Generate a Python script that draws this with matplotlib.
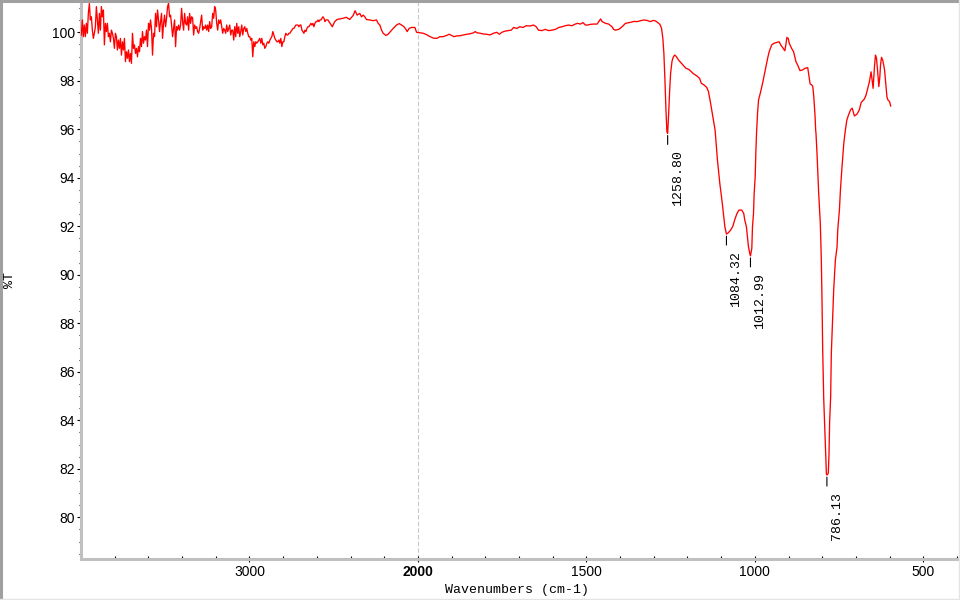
import numpy as np
import matplotlib
matplotlib.use("Agg")
import matplotlib.pyplot as plt
import matplotlib.transforms as mtransforms
from matplotlib.ticker import FixedLocator, MultipleLocator
from matplotlib.lines import Line2D

# ---------------- data ----------------
# noisy high-wavenumber region, uniformly sampled from 3998 to 2528 cm-1
noisy_start, noisy_end = 3998, 2528
T_noisy = [
    99.89, 100.51, 99.82, 100.30, 99.82, 100.37, 99.96, 100.78, 101.19, 100.51,
    100.64, 100.09, 99.75, 99.96, 100.23, 101.06, 100.51, 99.96, 100.78, 100.09,
    101.06, 100.64, 100.92, 99.48, 100.37, 100.03, 100.37, 99.82, 99.96, 99.61,
    100.09, 99.96, 99.75, 99.34, 99.96, 99.82, 99.27, 99.68, 99.34, 99.75,
    99.06, 99.61, 99.27, 99.75, 98.79, 99.20, 98.93, 99.27, 98.79, 99.13,
    98.72, 99.96, 99.34, 99.48, 99.13, 99.34, 98.99, 99.41, 99.20, 99.75,
    99.41, 100.03, 99.55, 99.82, 99.68, 100.09, 99.41, 100.37, 100.09, 100.51,
    100.16, 99.06, 99.96, 99.82, 100.78, 100.23, 100.92, 100.51, 100.03, 100.44,
    100.78, 99.75, 100.37, 100.71, 100.23, 100.58, 101.06, 101.19, 100.64, 100.71,
    100.30, 99.82, 100.16, 100.51, 99.41, 100.23, 100.09, 100.30, 100.09, 100.30,
    100.99, 100.44, 100.09, 100.78, 100.37, 100.30, 100.64, 100.09, 100.78, 100.37,
    100.64, 100.58, 99.89, 100.30, 100.16, 100.23, 100.03, 99.96, 100.16, 100.44,
    100.71, 100.09, 100.23, 100.16, 100.30, 100.09, 100.30, 100.03, 100.44, 100.16,
    100.23, 100.78, 100.58, 101.06, 100.92, 100.37, 100.09, 100.51, 100.37, 100.51,
    100.23, 99.96, 100.16, 100.09, 99.96, 100.30, 100.03, 100.16, 100.30, 99.89,
    100.09, 100.09, 99.68, 100.23, 99.82, 100.37, 99.96, 100.23, 99.82, 100.03,
    100.30, 99.89, 100.16, 100.23, 100.03, 100.16, 99.96, 99.82, 99.82, 99.68,
    99.75, 98.99, 99.61, 99.41, 99.61, 99.55, 99.61, 99.68, 99.75, 99.55,
    99.75, 99.48, 99.55, 99.34, 99.41, 99.55, 99.61, 99.55, 99.68, 99.75,
    99.82, 100.03, 99.89, 99.75, 99.68, 99.61, 99.61, 99.68, 99.55, 99.75,
    99.41, 99.61, 99.61, 99.82, 99.96, 99.89, 99.89, 99.96, 99.96, 100.03,
    100.09, 100.16, 100.16, 100.23, 100.30, 100.30, 100.30, 100.23, 100.30, 100.30,
    100.09, 100.03, 99.96, 100.09, 100.03, 100.16, 100.23, 100.23, 100.30, 100.37,
    100.30, 100.37, 100.23, 100.37, 100.44, 100.44, 100.51, 100.44, 100.51, 100.51,
    100.58, 100.64, 100.58, 100.44, 100.51, 100.51, 100.51, 100.44,
]

# rest of the spectrum (wavenumber, %T)
w_main = [
    2508, 2494, 2480, 2464, 2444, 2425, 2405, 2385, 2373, 2361,
    2345, 2335, 2325, 2315, 2306, 2286, 2266, 2246, 2236, 2226,
    2216, 2206, 2190, 2177, 2163, 2147, 2127, 2111, 2097, 2083,
    2071, 2064, 2052, 2038, 2018, 2008, 1994, 1984, 1974, 1964,
    1954, 1944, 1935, 1925, 1915, 1907, 1900, 1893, 1885, 1875,
    1865, 1855, 1845, 1835, 1830, 1825, 1815, 1806, 1796, 1786,
    1776, 1766, 1758, 1751, 1741, 1731, 1723, 1716, 1706, 1698,
    1688, 1679, 1667, 1657, 1649, 1642, 1632, 1622, 1612, 1602,
    1592, 1582, 1572, 1563, 1553, 1543, 1533, 1526, 1518, 1510,
    1503, 1496, 1488, 1478, 1468, 1458, 1453, 1443, 1434, 1424,
    1419, 1414, 1404, 1394, 1384, 1369, 1359, 1349, 1339, 1329,
    1320, 1310, 1302, 1295, 1288, 1282, 1277, 1273, 1270, 1267,
    1264, 1261, 1258.8, 1256, 1253, 1250, 1246, 1243, 1238.5, 1234,
    1225, 1215, 1205, 1196, 1188, 1184, 1173, 1164, 1159, 1151,
    1143, 1138, 1133, 1128, 1123, 1118, 1114, 1111, 1108, 1104,
    1099, 1095, 1089, 1084.32, 1079, 1072, 1065, 1060, 1053, 1047,
    1039, 1033, 1030, 1025, 1022, 1019, 1015, 1012.99, 1009, 1007,
    1004, 1002, 999, 997, 995, 992, 989, 984, 977, 972,
    967, 962, 957.5, 950, 943, 932.5, 928, 923, 916, 911,
    908, 905, 901, 898, 891, 885, 878, 873, 866, 858,
    851, 843, 840, 836, 831, 828, 825, 821.5, 819.5, 818.5,
    815.5, 810.5, 805.7, 802.7, 800.7, 798.6, 795.6, 791.7, 789.5, 787.7,
    786.13, 782, 780, 778, 775, 773, 770, 766, 761, 756,
    754, 749, 746, 742, 739, 736, 732, 727, 722, 716,
    711, 704.5, 696.5, 690, 684.6, 675, 670, 665, 660, 655,
    652, 649, 645, 642, 639, 635, 632, 629, 627, 624,
    620, 615, 611, 608, 605, 600, 597,
]
T_main = [
    100.23, 100.44, 100.53, 100.55, 100.58, 100.62, 100.53, 100.69, 100.89, 100.71,
    100.78, 100.64, 100.71, 100.64, 100.53, 100.51, 100.48, 100.51, 100.37, 100.30,
    100.09, 99.96, 99.87, 99.92, 100.03, 100.16, 100.30, 100.36, 100.30, 100.23,
    100.12, 100.03, 100.16, 100.20, 100.20, 100.00, 99.98, 99.96, 99.90, 99.82,
    99.76, 99.75, 99.82, 99.82, 99.87, 99.92, 99.87, 99.82, 99.85, 99.86,
    99.89, 99.92, 99.94, 99.98, 100.03, 99.98, 99.96, 99.93, 99.92, 99.89,
    99.96, 100.00, 99.92, 100.00, 100.05, 100.07, 100.09, 100.20, 100.16, 100.23,
    100.20, 100.27, 100.26, 100.30, 100.23, 100.09, 100.07, 100.12, 100.07, 100.09,
    100.12, 100.20, 100.23, 100.27, 100.30, 100.27, 100.34, 100.37, 100.34, 100.40,
    100.30, 100.30, 100.33, 100.34, 100.34, 100.55, 100.44, 100.37, 100.34, 100.23,
    100.12, 100.09, 100.12, 100.23, 100.37, 100.41, 100.45, 100.44, 100.48, 100.51,
    100.49, 100.44, 100.49, 100.47, 100.40, 100.33, 100.17, 99.75, 99.13, 98.10,
    96.87, 95.90, 95.83, 96.59, 97.55, 98.31, 98.79, 98.95, 99.06, 99.02,
    98.83, 98.68, 98.52, 98.47, 98.37, 98.31, 98.21, 98.10, 97.90, 97.83,
    97.73, 97.57, 97.21, 96.80, 96.38, 95.97, 95.28, 94.73, 94.32, 93.77,
    93.22, 92.74, 91.98, 91.68, 91.73, 91.84, 92.01, 92.26, 92.53, 92.67,
    92.67, 92.53, 92.26, 91.98, 91.57, 91.16, 90.88, 90.78, 91.09, 91.98,
    92.53, 93.36, 94.04, 95.08, 95.83, 96.66, 97.21, 97.48, 97.90, 98.24,
    98.58, 98.93, 99.20, 99.48, 99.55, 99.59, 99.61, 99.48, 99.34, 99.24,
    99.48, 99.79, 99.75, 99.55, 99.34, 99.20, 98.79, 98.65, 98.42, 98.45,
    98.52, 98.54, 98.24, 97.87, 97.83, 97.76, 97.34, 96.59, 95.97, 95.83,
    95.01, 93.36, 92.12, 90.61, 88.96, 86.89, 84.90, 83.32, 82.56, 81.81,
    81.74, 81.81, 82.56, 83.94, 84.97, 86.76, 87.93, 89.37, 90.61, 91.15,
    91.84, 92.67, 93.49, 94.32, 94.87, 95.42, 95.90, 96.38, 96.59, 96.80,
    96.87, 96.55, 96.63, 96.80, 97.10, 97.25, 97.41, 97.69, 97.96, 98.37,
    98.03, 97.69, 98.58, 99.06, 98.93, 98.31, 97.76, 98.17, 98.65, 98.97,
    98.83, 98.45, 97.83, 97.34, 97.21, 97.14, 96.96,
]

# labelled peaks
peak_w = [1258.80, 1084.32, 1012.99, 786.13]
peak_T = [95.83, 91.68, 90.78, 81.74]
peak_labels = ["1258.80", "1084.32", "1012.99", "786.13"]

x_major_ticks = [3000, 2000, 1500, 1000, 500]
x_major_labels = ["3000", "2000", "1500", "1000", "500"]
x_minor_ticks = [3800, 3600, 3400, 3200, 2800, 2600, 2400, 2200,
                 1900, 1800, 1700, 1600, 1400, 1300, 1200, 1100,
                 900, 800, 700, 600, 400]

# ---------------- figure ----------------
w_noisy = np.linspace(noisy_start, noisy_end, len(T_noisy))
w_all = np.concatenate([w_noisy, np.array(w_main, float)])
T_all = np.concatenate([np.array(T_noisy, float), np.array(T_main, float)])

fig = plt.figure(figsize=(9.6, 6.0), dpi=100)
ax = fig.add_axes([81 / 960, 41.5 / 600, 876 / 960, 556.5 / 600])


def fwd(x):
    x = np.asarray(x, float)
    return np.where(x > 2000, 2000 + (x - 2000) * 0.5, x)


def inv(u):
    u = np.asarray(u, float)
    return np.where(u > 2000, 2000 + (u - 2000) * 2.0, u)


ax.set_xscale("function", functions=(fwd, inv))
ax.set_xlim(4000, 400)
ax.set_ylim(78.30, 101.25)

ax.axvline(2000, color="#c8c8c8", lw=0.8, ls=(0, (4, 2)), zorder=1)
ax.plot(w_all, T_all, color="#ff0000", lw=0.95, zorder=3)

# peak annotations
for w, t, lab in zip(peak_w, peak_T, peak_labels):
    ax.annotate("", xy=(w, t), xycoords="data", xytext=(0, -11),
                textcoords="offset pixels",
                arrowprops=dict(arrowstyle="-", color="black", lw=0.8,
                                shrinkA=0, shrinkB=1.5))
    ax.annotate(lab, xy=(w, t), xycoords="data", xytext=(10, -17),
                textcoords="offset pixels", rotation=90, ha="center",
                va="top", fontsize=9.5, family="Liberation Mono",
                color="black")

# spines
for s in ["top", "right"]:
    ax.spines[s].set_visible(False)
for s in ["left", "bottom"]:
    ax.spines[s].set_color("#c0c0c0")
    ax.spines[s].set_linewidth(2.2)

# ticks
ax.xaxis.set_major_locator(FixedLocator(x_major_ticks))
ax.xaxis.set_minor_locator(FixedLocator(x_minor_ticks))
ax.set_xticks(x_major_ticks, x_major_labels)
shift = mtransforms.ScaledTranslation(-4 / 100, 0, fig.dpi_scale_trans)
for lbl in ax.get_xticklabels():
    lbl.set_family("Liberation Sans")
    lbl.set_fontsize(10)
    lbl.set_transform(lbl.get_transform() + shift)
    if lbl.get_text() == "2000":
        lbl.set_fontweight("bold")

ax.yaxis.set_major_locator(MultipleLocator(2))
ax.yaxis.set_minor_locator(MultipleLocator(0.5))
for lbl in ax.get_yticklabels():
    lbl.set_family("Liberation Sans")
    lbl.set_fontsize(10)

ax.tick_params(axis="x", which="major", direction="inout", length=4,
               width=0.8, pad=3, colors="black")
ax.tick_params(axis="x", which="minor", direction="in", length=2,
               width=0.8, colors="black")
ax.tick_params(axis="y", which="major", direction="out", length=3,
               width=0.8, pad=1.5, colors="black")
ax.tick_params(axis="y", which="minor", direction="out", length=1.5,
               width=0.8, colors="black")

# axis labels
fig.text(517 / 960, 1 - 590 / 600, "Wavenumbers (cm-1)", ha="center",
         va="center", fontsize=9.5, family="Liberation Mono")
fig.text(10 / 960, 1 - 280 / 600, "%T", ha="center", va="center",
         rotation=90, fontsize=9.5, family="Liberation Mono")

# window-like frame around the figure
fig.add_artist(Line2D([1 / 960, 1 / 960], [0, 1], transform=fig.transFigure,
                      color="#a0a0a0", lw=2.2))
fig.add_artist(Line2D([0, 1], [1 - 1 / 600, 1 - 1 / 600],
                      transform=fig.transFigure, color="#a0a0a0", lw=2.2))
fig.add_artist(Line2D([958.5 / 960, 958.5 / 960], [0, 1],
                      transform=fig.transFigure, color="#e4e4e4", lw=1.0))
fig.add_artist(Line2D([0, 1], [1.5 / 600, 1.5 / 600],
                      transform=fig.transFigure, color="#e4e4e4", lw=1.0))

fig.savefig("out.png", dpi=100)
